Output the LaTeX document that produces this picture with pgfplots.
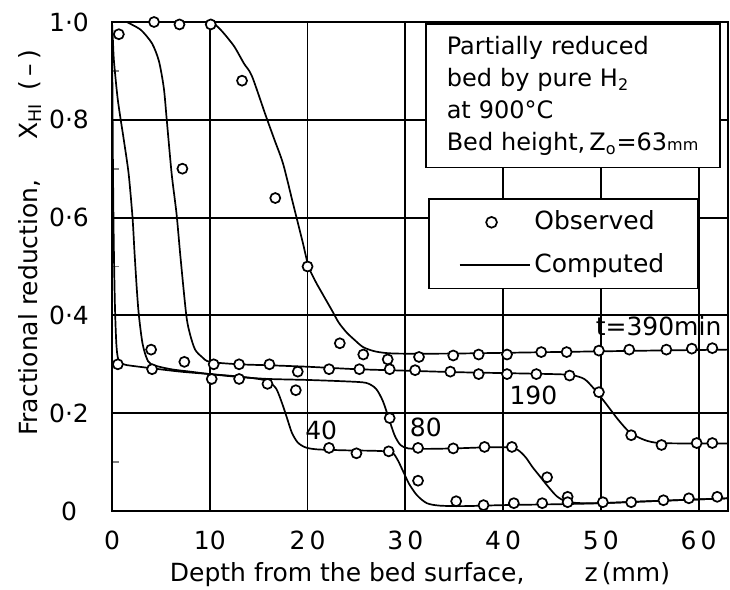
\documentclass[border=0pt]{standalone}
\usepackage{fontspec}
\setmainfont{DejaVu Sans}
\usepackage{pgfplots}
\pgfplotsset{compat=1.18}

% computed profiles
\pgfplotstableread{
z X
0 1.0
0.05 0.85
0.1 0.7
0.18 0.55
0.3 0.42
0.45 0.34
0.65 0.31
1.2 0.30
2 0.297
4 0.292
7 0.285
10 0.28
13 0.275
15 0.27
16 0.265
16.8 0.25
17.4 0.22
17.9 0.19
18.4 0.16
19 0.14
19.8 0.13
21 0.126
24 0.124
27 0.123
28.6 0.12
29.2 0.105
29.8 0.08
30.4 0.055
31.2 0.032
32.2 0.016
33.5 0.011
36 0.01
40 0.012
46 0.014
50 0.016
55 0.02
63 0.026
}\tforty

\pgfplotstableread{
z X
0 1.0
0.1 0.96
0.2 0.92
0.6 0.84
1.2 0.76
1.7 0.69
2.1 0.6
2.3 0.53
2.55 0.45
2.75 0.4
3.1 0.345
3.5 0.315
4 0.30
6 0.29
8 0.285
10 0.28
13 0.274
16 0.27
20 0.268
24 0.265
26 0.262
27 0.25
27.7 0.225
28.3 0.19
28.9 0.155
29.5 0.135
30.3 0.128
32 0.127
35 0.128
38 0.13
40.5 0.13
41.5 0.125
42.3 0.11
43 0.09
43.8 0.07
44.6 0.05
45.5 0.03
46.5 0.019
48 0.016
50 0.016
55 0.02
63 0.026
}\teighty

\pgfplotstableread{
z X
0 1.0
1.5 1.0
2.0 0.995
3.0 0.983
4.1 0.956
4.8 0.92
5.3 0.865
5.6 0.80
6.1 0.69
6.6 0.608
7.0 0.52
7.6 0.40
8.0 0.36
8.5 0.33
9.2 0.315
10 0.305
13 0.30
16 0.298
20 0.295
25 0.29
30 0.287
35 0.284
40 0.282
45 0.28
47 0.278
48.3 0.27
49.3 0.25
50.5 0.22
51.8 0.186
53 0.16
54.5 0.145
56 0.139
60 0.138
63 0.138
}\tonefifty

\pgfplotstableread{
z X
0 1.0
9.5 1.0
10.5 0.995
11.3 0.98
12.5 0.95
13.5 0.915
14.3 0.89
15.7 0.81
16.6 0.76
17.5 0.71
18.5 0.63
19.5 0.55
20.1 0.50
20.8 0.47
21.5 0.445
22.5 0.41
23.2 0.385
24 0.365
24.8 0.35
25.7 0.335
27 0.326
29 0.322
35 0.322
45 0.325
55 0.328
63 0.33
}\tthreeninety

% observed points
\pgfplotstableread{
z X
0.7 0.975
4.3 1.0
6.9 0.995
10.1 0.995
13.3 0.88
7.2 0.70
16.7 0.64
20.0 0.50
23.3 0.343
0.6 0.30
4.0 0.33
4.1 0.29
7.4 0.305
10.4 0.30
10.2 0.27
13.0 0.30
13.0 0.27
16.1 0.30
15.9 0.26
19.0 0.285
18.8 0.247
22.2 0.29
25.3 0.29
25.7 0.32
28.2 0.31
28.4 0.29
31.4 0.315
31.0 0.288
34.9 0.318
34.6 0.285
37.5 0.32
37.5 0.28
40.4 0.32
40.4 0.28
43.9 0.325
43.4 0.28
46.5 0.325
46.8 0.277
49.8 0.328
49.8 0.243
52.9 0.33
56.7 0.33
59.3 0.332
61.4 0.333
53.1 0.155
56.2 0.135
59.8 0.139
61.4 0.139
22.2 0.129
25.0 0.118
28.3 0.122
31.3 0.129
34.9 0.128
38.1 0.131
40.9 0.131
44.5 0.069
46.6 0.029
28.4 0.19
31.3 0.062
35.2 0.02
38.0 0.012
41.1 0.016
44.0 0.016
46.6 0.018
50.2 0.018
53.1 0.018
56.4 0.022
59.0 0.026
61.9 0.029
}\observed

\begin{document}
\fontsize{12.5}{15}\selectfont
\begin{tikzpicture}
\useasboundingbox (-56pt,-39.5pt) rectangle (309pt,255.5pt);
\begin{axis}[
    width=308pt, height=244.5pt, scale only axis,
    font=\fontsize{12.5}{15}\selectfont,
    xmin=0, xmax=63, ymin=0, ymax=1,
    xtick={0,10,20,30,40,50,60},
    ytick={0,0.2,0.4,0.6,0.8,1},
    xticklabels={0,10,2\,0,3\,0,4\,0,5\,0,6\,0},
    yticklabels={0,0·2,0·4,0·6,0·8,1·0},
    minor ytick={0.1,0.3,0.5,0.7,0.9},
    ytick pos=left, xtick pos=bottom,
    tick align=inside,
    major tick length=0pt, minor tick length=3.5pt,
    minor tick style={line width=0.8pt},
    grid=major,
    grid style={black, line width=0.95pt},
    axis line style={line width=1.2pt},
    xticklabel style={anchor=north, inner sep=0pt, yshift=-10pt},
    yticklabel style={anchor=center, inner sep=0pt, xshift=-21.5pt},
    xlabel={Depth from the bed surface,\hspace{2.4em}z\,(mm)},
    xlabel style={at={(axis description cs:0.5,0)}, anchor=center, yshift=-32pt},
    ylabel={Fractional reduction,\hspace{1.6em}X\textsubscript{HI}\hspace{0.5em}(\,--\,)},
    ylabel style={at={(axis description cs:-0.133,0.548)}, anchor=center},
    legend style={at={(axis cs:32.3,0.64)}, anchor=north west, draw=black,
        line width=0.9pt, fill=white, inner xsep=15pt, inner ysep=4pt,
        row sep=6pt, cells={anchor=west},
        /tikz/every even column/.append style={column sep=7pt}},
    legend image code/.code={\draw[#1] (0pt,0pt) -- (35pt,0pt);},
]
\addplot[black, line width=0.85pt, smooth, tension=0.45, forget plot] table {\tforty};
\addplot[black, line width=0.85pt, smooth, tension=0.45, forget plot] table {\teighty};
\addplot[black, line width=0.85pt, smooth, tension=0.45, forget plot] table {\tonefifty};
\addplot[black, line width=0.85pt, smooth, tension=0.45, forget plot] table {\tthreeninety};
\addplot[only marks, mark=*, mark size=2.5pt,
    mark options={draw=black, fill=white, line width=0.85pt}, forget plot] table {\observed};

\addlegendimage{legend image code/.code={\path[draw=none, fill=none] (0pt,0pt) -- (35pt,0pt);
    \draw[black, fill=white, line width=0.85pt] (16pt,0pt) circle (2.7pt);}}
\addlegendentry{Observed}
\addlegendimage{black, line width=0.85pt}
\addlegendentry{Computed}

\node at (axis cs:55.9,0.378) {t=390min};
\node at (axis cs:43.1,0.237) {190};
\node at (axis cs:21.4,0.165) {40};
\node at (axis cs:32.1,0.171) {80};

\node[draw=black, fill=white, line width=0.9pt, anchor=north west,
    inner xsep=10.5pt, inner ysep=6pt, align=left, text width=126pt,
    font=\fontsize{12}{16}\selectfont]
    at (axis cs:32.0,0.997)
    {Partially reduced\\bed by pure H\textsubscript{2}\\at 900°C\\Bed height,\,Z\textsubscript{o}=63{\footnotesize mm}};
\end{axis}
\end{tikzpicture}
\end{document}
